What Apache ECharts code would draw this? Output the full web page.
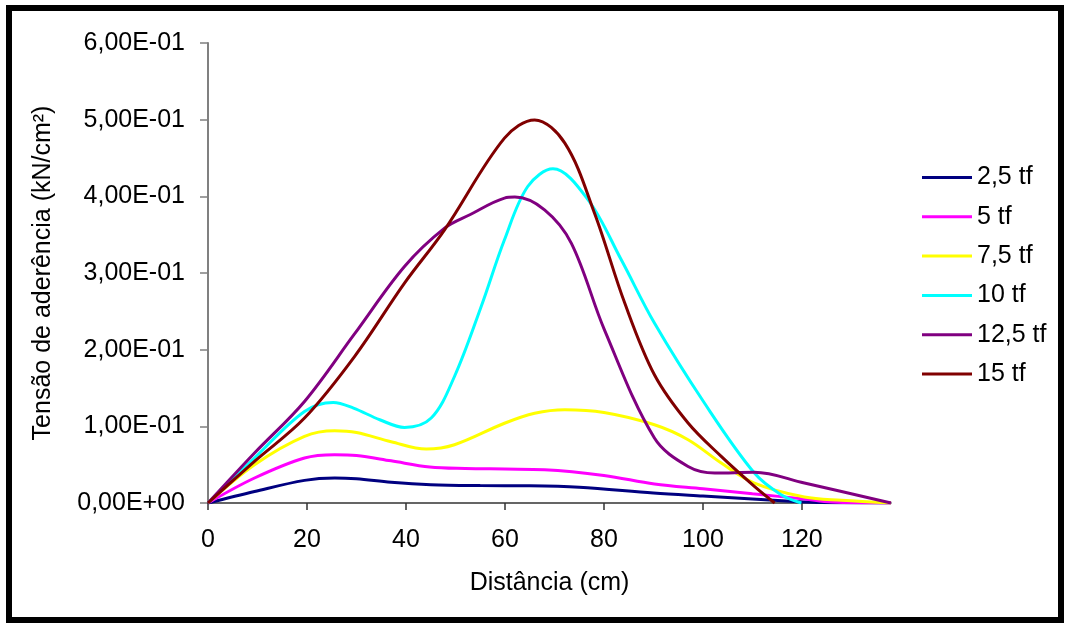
<!DOCTYPE html>
<html>
<head>
<meta charset="utf-8">
<script src="https://cdn.jsdelivr.net/npm/echarts@6/dist/echarts.min.js"></script>
<style>
html,body{margin:0;padding:0;background:#fff;}
#chart{width:1070px;height:624px;}
</style>
</head>
<body>
<div id="chart"></div>
<script>
// Series names
const seriesNames = ['2,5 tf', '5 tf', '7,5 tf', '10 tf', '12,5 tf', '15 tf'];
const seriesColors = ['#000080', '#FF00FF', '#FFFF00', '#00FFFF', '#800080', '#800000'];

// Values: [distance (cm), bond stress (kN/cm²)]
const s2_5 = [[0,0],[9.4,0.015],[19.5,0.0295],[25.6,0.0326],[30,0.0315],[37,0.027],[45,0.0239],[55,0.0227],[65,0.0224],[75,0.0205],[90,0.013],[100,0.009],[110,0.0052],[118.5,0.002],[124,0.0005],[138,0]];
const s5 = [[0,0],[9.4,0.0326],[19.5,0.0587],[25.6,0.063],[30,0.062],[37,0.055],[44.8,0.047],[52,0.045],[60,0.0443],[68,0.0434],[80,0.036],[90.2,0.0248],[100,0.0185],[110,0.012],[120.5,0.0052],[126,0.0012],[138,0]];
const s7_5 = [[0,0],[9.4,0.05],[19.5,0.087],[25.6,0.0943],[30,0.092],[37,0.08],[44.1,0.0704],[49.8,0.076],[59.9,0.104],[66,0.117],[72.1,0.1216],[80,0.118],[90.2,0.102],[97,0.0825],[103.7,0.0521],[110.4,0.026],[120.5,0.0078],[128,0.0035],[138,0]];
const s10 = [[0,0],[9.4,0.0587],[19.5,0.1194],[25.3,0.1312],[29.4,0.1238],[34.7,0.1086],[39.7,0.0986],[45.1,0.1108],[49.8,0.165],[55.2,0.2563],[59.9,0.3433],[64.6,0.4128],[69.7,0.4359],[76.8,0.3954],[83.5,0.3172],[90.2,0.2347],[100.3,0.1304],[110.4,0.0391],[115.8,0.0108],[119.9,0]];
const s12_5 = [[0,0],[9.4,0.0652],[19.5,0.1325],[29.6,0.2205],[39.7,0.3085],[47.8,0.3585],[52.9,0.376],[59.9,0.3977],[62,0.399],[68,0.3824],[73.4,0.339],[80.1,0.2259],[90.2,0.0847],[97,0.0477],[102.4,0.0391],[110.4,0.04],[120.5,0.026],[138,0]];
const s15 = [[0,0],[9.4,0.0543],[19.5,0.1108],[29.6,0.191],[39.7,0.2868],[47.8,0.3563],[59.9,0.4759],[66,0.4997],[72.1,0.4694],[78.1,0.378],[84.2,0.2608],[90.2,0.1673],[97,0.1043],[103.7,0.0608],[110.4,0.0217],[114.5,0]];
const seriesData = [s2_5, s5, s7_5, s10, s12_5, s15];

// Axis ticks
const xTicks = [0, 20, 40, 60, 80, 100, 120];
const yTicks = [0, 0.1, 0.2, 0.3, 0.4, 0.5, 0.6];

const FONT = 'Liberation Sans, Arial, Helvetica, sans-serif';

function sciLabel(v) {
  if (Math.abs(v) < 1e-12) return '0,00E+00';
  let e = Math.floor(Math.log10(Math.abs(v)) + 1e-9);
  let m = v / Math.pow(10, e);
  let ms = m.toFixed(2).replace('.', ',');
  let sign = e < 0 ? '-' : '+';
  let ae = Math.abs(e);
  return ms + 'E' + sign + (ae < 10 ? '0' + ae : String(ae));
}

const chart = echarts.init(document.getElementById('chart'), null, {renderer: 'canvas'});
chart.setOption({
  backgroundColor: '#ffffff',
  animation: false,
  graphic: [{
    type: 'rect',
    shape: {x: 9, y: 8, width: 1052, height: 612},
    style: {fill: 'none', stroke: '#000', lineWidth: 6},
    silent: true,
    z: 100
  }],
  grid: {left: 208, right: 179, top: 43, bottom: 121, containLabel: false},
  legend: {
    orient: 'vertical',
    left: 917,
    top: 160,
    itemWidth: 50,
    itemHeight: 14,
    itemGap: 14.3,
    data: seriesNames.map((n) => ({name: n, icon: 'path://M0,6 L50,6 L50,9 L0,9 Z'})),
    textStyle: {fontFamily: FONT, fontSize: 25, color: '#000', lineHeight: 25}
  },
  xAxis: {
    type: 'value',
    min: 0,
    max: 138,
    interval: 20,
    name: 'Distância (cm)',
    nameLocation: 'middle',
    nameGap: 68,
    nameTextStyle: {fontFamily: FONT, fontSize: 25, color: '#000'},
    axisLine: {onZero: false, lineStyle: {color: '#333', width: 1.5}},
    axisTick: {show: true, length: 7, inside: false, lineStyle: {color: '#333', width: 1.5}, customValues: xTicks},
    axisLabel: {fontFamily: FONT, fontSize: 25, color: '#000', margin: 25, customValues: xTicks},
    splitLine: {show: false}
  },
  yAxis: {
    type: 'value',
    min: 0,
    max: 0.6,
    interval: 0.1,
    name: 'Tensão de aderência (kN/cm²)',
    nameLocation: 'middle',
    nameGap: 152,
    nameTextStyle: {fontFamily: FONT, fontSize: 25, color: '#000'},
    axisLine: {show: true, lineStyle: {color: '#808080', width: 2}},
    axisTick: {show: true, length: 8, inside: false, lineStyle: {color: '#808080', width: 1.5}},
    axisLabel: {fontFamily: FONT, fontSize: 25, color: '#000', margin: 23, formatter: sciLabel},
    splitLine: {show: false}
  },
  series: seriesNames.map((n, i) => ({
    name: n,
    type: 'line',
    data: seriesData[i],
    smooth: 0.35,
    symbol: 'none',
    showSymbol: false,
    color: seriesColors[i],
    lineStyle: {color: seriesColors[i], width: 3},
    itemStyle: {color: seriesColors[i]},
    z: 2 + i
  }))
});
</script>
</body>
</html>
